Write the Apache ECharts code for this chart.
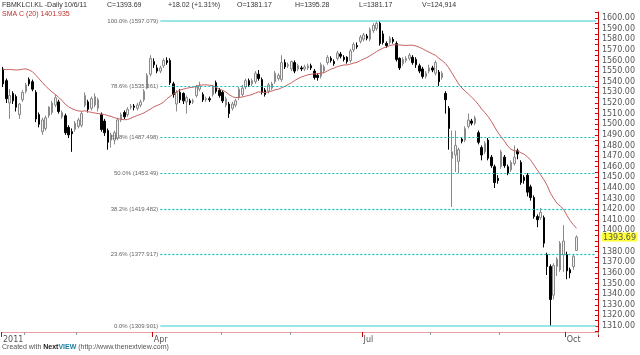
<!DOCTYPE html>
<html><head><meta charset="utf-8">
<script src="https://cdn.jsdelivr.net/npm/echarts@6/dist/echarts.min.js"></script>
<style>html,body{margin:0;padding:0;background:#fff}#c{width:640px;height:355px}</style>
</head><body><div id="c"></div><script>
// ---- data ----
const startDate = '2011-01-21', endDate = '2011-10-06';
const holidays = ['2011-02-01','2011-02-03','2011-02-04','2011-02-15','2011-05-17','2011-08-30','2011-08-31','2011-09-01','2011-09-16'];
const padDays = 6;
const opens = [1552,1541,1520,1529,1526,1509,1523,1531,1542,1540,1530,1509,1493,1496,1508,1511,1518,1521,1507,1508,
1497,1493,1495,1498,1499,1518,1521,1515,1518,1515,1509,1503,1494,1485,1485,1487,1504,1511,1509,1516,
1517,1515,1518,1523,1534,1547,1559,1553,1550,1555,1560,1560,1538,1519,1530,1529,1521,1522,1521,1527,
1533,1528,1523,1524,1528,1539,1532,1530,1518,1519,1515,1518,1525,1528,1535,1541,1538,1540,1547,1542,
1532,1531,1534,1540,1543,1542,1558,1555,1552,1558,1552,1553,1552,1553,1555,1550,1546,1545,1550,1558,
1562,1559,1562,1566,1563,1563,1560,1570,1574,1578,1580,1583,1580,1588,1590,1595,1585,1576,1577,1580,
1576,1562,1557,1560,1562,1563,1561,1555,1552,1545,1550,1553,1548,1549,1544,1529,1515,1468,1471,1465,
1486,1485,1498,1503,1501,1492,1478,1474,1485,1469,1460,1449,1460,1469,1460,1457,1463,1475,1464,1450,
1452,1441,1431,1413,1412,1412,1377,1366,1339,1366,1363,1377,1377,1363,1366,1381.17];
const highs = [1554,1543,1533,1531,1528,1520,1532,1539,1544,1542,1532,1511,1506,1508,1517,1522,1528,1523,1513,1510,
1499,1496,1503,1506,1512,1530,1523,1526,1529,1525,1511,1505,1496,1492,1494,1506,1511,1513,1516,1519,
1519,1520,1523,1533,1548,1565,1562,1556,1555,1562,1563,1562,1540,1532,1533,1530,1527,1524,1524,1537,
1540,1530,1526,1526,1537,1541,1534,1532,1526,1521,1521,1524,1535,1537,1543,1543,1543,1550,1551,1544,
1534,1539,1540,1550,1548,1565,1561,1558,1560,1560,1557,1555,1556,1557,1557,1552,1548,1558,1556,1565,
1564,1561,1569,1568,1565,1564,1571,1577,1577,1584,1586,1585,1591,1595,1597,1597.079,1588,1578,1583,1582,
1578,1563,1563,1564,1567,1565,1563,1557,1554,1550,1556,1555,1560,1551,1550,1531,1517,1494,1494,1478,
1488,1498,1510,1505,1508,1494,1480,1484,1487,1471,1462,1452,1476,1471,1462,1466,1480,1477,1466,1452,
1454,1443,1433,1415,1421,1414,1379,1368,1369,1375,1390,1405,1380,1365,1377,1395.28];
const lows = [1535,1520,1505,1519,1512,1505,1521,1529,1536,1531,1502,1497,1490,1494,1506,1509,1516,1510,1505,1490,
1487,1474,1493,1496,1497,1516,1511,1513,1516,1512,1493,1489,1476,1478,1481,1485,1502,1505,1507,1514,
1513,1513,1516,1521,1533,1545,1553,1548,1548,1553,1556,1537,1525,1512,1520,1519,1510,1518,1519,1525,
1531,1521,1521,1521,1526,1529,1525,1520,1516,1506,1513,1516,1523,1526,1533,1535,1536,1538,1541,1528,
1526,1529,1532,1538,1541,1540,1552,1553,1550,1548,1550,1550,1550,1551,1551,1542,1541,1543,1548,1556,
1558,1555,1560,1562,1559,1557,1558,1568,1571,1576,1578,1579,1578,1586,1588,1574,1575,1572,1575,1576,
1559,1551,1555,1558,1560,1556,1553,1548,1543,1543,1548,1549,1546,1536,1542,1510,1476,1422,1455,1454,
1482,1483,1496,1499,1499,1481,1466,1472,1466,1459,1440,1444,1458,1459,1452,1455,1461,1467,1443,1444,
1432,1428,1411,1403,1410,1384,1358,1309.901,1335,1357,1361,1361,1354,1355,1363,1381.17];
const closes = [1538,1524,1527,1522,1516,1519,1530,1537,1538,1533,1505,1500,1504,1506,1516,1520,1525,1512,1511,1492,
1490,1491,1501,1504,1510,1527,1514,1524,1526,1523,1495,1492,1483,1490,1492,1504,1509,1507,1514,1517,
1516,1518,1521,1531,1546,1562,1556,1550,1553,1560,1558,1539,1528,1530,1523,1522,1525,1520,1522,1535,
1536,1523,1524,1523,1535,1531,1527,1522,1524,1510,1519,1522,1533,1534,1541,1537,1541,1548,1543,1530,
1528,1537,1538,1548,1546,1558,1554,1556,1559,1550,1555,1552,1554,1555,1553,1544,1544,1556,1554,1563,
1560,1557,1567,1564,1561,1559,1569,1575,1573,1582,1584,1581,1589,1593,1595,1576,1577,1574,1581,1578,
1561,1553,1561,1562,1565,1558,1556,1550,1545,1548,1553,1551,1558,1540,1548,1523,1496,1474,1480,1476,
1484,1496,1504,1501,1506,1483,1471,1482,1468,1461,1445,1447,1474,1461,1454,1464,1469,1472,1445,1447,
1436,1431,1413,1410,1417,1388,1366,1335,1367,1373,1388,1390,1362,1360,1375.67,1393.69];
// closes of the 19 sessions before the first bar (seed for SMA 20)
const priorCloses = [1525,1524,1527,1522,1516,1519,1530,1560,1565,1568,1570,1572,1574,1576,1575,1570,1568,1566,1565];
const smaPeriod = 20;
const fibValues = [1597.079,1535.361,1487.498,1453.49,1419.482,1377.917,1309.901];
const fibTexts = ['100.0% (1597.079)','78.6% (1535.361)','61.8% (1487.498)','50.0% (1453.49)','38.2% (1419.482)','23.6% (1377.917)','0.0% (1309.901)'];
const fibSolid = [true,false,false,false,false,false,true];
const fibStartDate = '2011-04-05';
const yLabelValues = [1310,1320,1330,1340,1350,1360,1370,1380,1400,1410,1420,1430,1440,1450,1460,1470,1480,1490,1500,
1510,1520,1530,1540,1550,1560,1570,1580,1590,1600];
const monthNames = ['2011','Feb','Mar','Apr','May','Jun','Jul','Aug','Sep','Oct','Nov','Dec'];
const labelledMonths = [0,3,6,9];
const headerItems = [['FBMKLCI.KL -Daily',2],['10/6/11',64],['C=1393.69',107],['+18.02 (+1.31%)',168],['O=1381.17',237],['H=1395.28',295],['L=1381.17',359],['V=124,914',422]];
const smaTitle = 'SMA C (20) 1401.935';

// ---- build ----
function fmt(d){return d.toISOString().slice(0,10);}
const cats = [];
let d = new Date(startDate+'T00:00:00Z');
const endD = new Date(endDate+'T00:00:00Z');
let extra = 0;
while (true) {
  const wd = d.getUTCDay();
  const s = fmt(d);
  if (wd !== 0 && wd !== 6 && holidays.indexOf(s) < 0) {
    if (d <= endD) cats.push(s);
    else { if (extra >= padDays) break; cats.push(s); extra++; }
  }
  d = new Date(d.getTime() + 86400000);
}
const candle = opens.map((o,i)=>[o, closes[i], lows[i], highs[i]]);
const allC = priorCloses.concat(closes);
const sma = closes.map((c,i)=>{let s=0; for(let k=i;k<i+smaPeriod;k++) s+=allC[k]; return +(s/smaPeriod).toFixed(3);});
const lastClose = closes[closes.length-1];

const monthStart = {};
cats.forEach((c,i)=>{const m=+c.slice(5,7)-1; if(!(m in monthStart)) monthStart[m]=i;});
const majorIdx = new Set(), minorIdx = new Set(), labelAt = {};
Object.keys(monthStart).forEach(m=>{
  m=+m; const i=monthStart[m];
  if (labelledMonths.indexOf(m)>=0){majorIdx.add(i); labelAt[i]=monthNames[m];}
  else minorIdx.add(i);
});

const fibStartIdx = cats.indexOf(fibStartDate);
const lastCat = cats[cats.length-1];
const fibLines = fibValues.map((v,i)=>[
  {coord:[cats[fibStartIdx], v], lineStyle:{type: fibSolid[i]?'solid':[2,2], color: fibSolid[i]?'#79dcdc':'#00c4c4', width: fibSolid[i]?1.5:1.2},
   label:{show:true, position:'start', formatter: fibTexts[i], fontSize:6, color:'#666', fontFamily:'Liberation Sans', distance:2}},
  {coord:[lastCat, v]}
]);

const yTickValues=[]; for(let v=1305; v<=1605; v+=5) yTickValues.push(v);

const chart = echarts.init(document.getElementById('c'), null, {renderer:'canvas'});
const FONT = '7px "Liberation Sans"';
const txt = (t,x,y,color)=>({type:'text', left:x, top:y, style:{text:t, fill:color||'#333', font:FONT}});
const graphics = headerItems.map(h=>txt(h[0], h[1], 2));
graphics.push(txt(smaTitle, 2, 11, '#c03030'));
graphics.push({type:'text', left:2, top:344, style:{rich:{a:{fill:'#555',font:FONT},b:{fill:'#222',font:'bold '+FONT},v:{fill:'#1a7fa0',font:'bold '+FONT}}, text:'{a|Created with }{b|Next}{v|VIEW}{a| (http://www.thenextview.com)}'}});

chart.setOption({
  animation:false,
  backgroundColor:'#fff',
  grid:{left:0, right:40, top:12, bottom:23, containLabel:false},
  xAxis:[{
    type:'category', data:cats, boundaryGap:true,
    axisLine:{lineStyle:{color:'#eaa0a0', width:1}},
    axisTick:{show:true, interval:(i)=>majorIdx.has(i), length:5, lineStyle:{color:'#cc0000'}},
    axisLabel:{show:true, interval:(i)=>majorIdx.has(i), formatter:(v,i)=>labelAt[i]||'', align:'left', color:'#555', fontSize:8, fontFamily:'DejaVu Sans', margin:4},
    splitLine:{show:false}
  },{
    type:'category', data:cats, boundaryGap:true, position:'bottom', gridIndex:0,
    axisLine:{show:false},
    axisTick:{show:true, interval:(i)=>minorIdx.has(i), length:3, lineStyle:{color:'#999'}},
    axisLabel:{show:false}, splitLine:{show:false}
  }],
  yAxis:{
    type:'value', position:'right', min:1304.35, max:1605.65, scale:true,
    axisLine:{show:true, lineStyle:{color:'#cc0000', width:1}},
    axisTick:{show:true, inside:true, length:3, customValues:yTickValues, lineStyle:{color:'#cc0000'}},
    axisLabel:{show:true, customValues:yLabelValues.concat([lastClose]), margin:4, color:'#555', fontSize:8, fontFamily:'DejaVu Sans',
      formatter:(v)=>Math.abs(v-lastClose)<0.001?'{hl|'+v.toFixed(2)+'}':v.toFixed(2),
      rich:{hl:{backgroundColor:'#ffff33', color:'#555', fontSize:8, fontFamily:'DejaVu Sans', padding:[1,1,0,1]}}},
    splitLine:{show:false}
  },
  series:[{
    type:'candlestick', data:candle, barWidth:2,
    itemStyle:{color:'#f4f4f4', color0:'#000000', borderColor:'#8a8a8a', borderColor0:'#000000', borderWidth:1}
  },{
    type:'line', data:sma, showSymbol:false, symbol:'none', smooth:false,
    lineStyle:{color:'#c86060', width:1}, z:3,
    markLine:{silent:true, symbol:['none','none'], data:fibLines, animation:false}
  }],
  graphic:graphics
});
</script></body></html>
